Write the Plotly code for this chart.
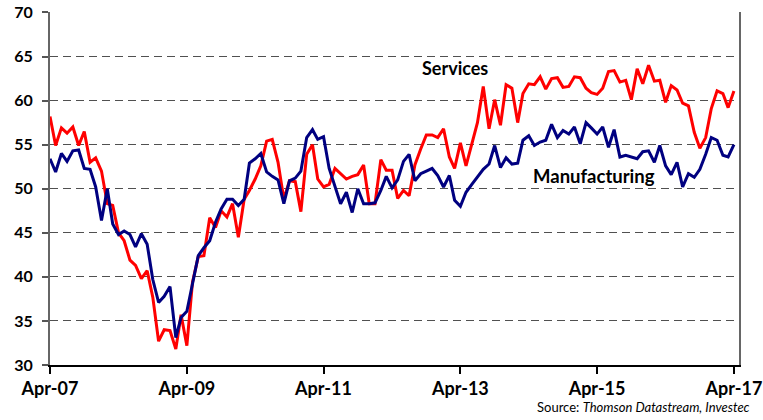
import pandas as pd
import plotly.graph_objects as go

months = pd.date_range("2007-04-01", periods=121, freq="MS")

services = [
    58.2, 54.9, 56.9, 56.3, 57.0, 54.9, 56.5, 53.0, 53.5, 52.0,
    48.3, 48.1, 45.0, 44.1, 41.9, 41.3, 39.8, 40.7, 37.7, 32.7,
    34.0, 33.9, 31.8, 35.7, 32.2, 39.4, 42.3, 42.4, 46.7, 45.6,
    47.5, 46.8, 48.3, 44.5, 48.8, 49.8, 51.1, 52.6, 55.4, 55.6,
    53.0, 48.8, 50.9, 50.8, 47.4, 53.9, 55.0, 51.1, 50.2, 50.5,
    52.3, 51.7, 51.1, 51.4, 51.6, 52.7, 48.3, 48.3, 53.3, 52.1,
    52.1, 48.9, 49.8, 49.2, 52.7, 54.5, 56.1, 56.1, 55.8, 56.8,
    53.6, 52.3, 55.2, 52.6, 55.0, 57.5, 61.6, 56.8, 60.1, 57.2,
    61.8, 61.4, 57.5, 60.8, 61.9, 61.8, 62.7, 61.3, 62.5, 62.6,
    61.5, 61.6, 62.7, 62.6, 61.4, 60.9, 60.7, 61.4, 63.3, 63.4,
    62.1, 62.3, 60.1, 63.6, 61.9, 64.0, 62.2, 62.3, 59.8, 61.7,
    61.2, 59.7, 59.4, 56.4, 54.6, 55.8, 59.1, 61.1, 60.8, 59.2,
    61.1,
]

manufacturing = [
    53.4, 51.9, 54.0, 53.1, 54.3, 54.4, 52.3, 52.2, 50.2, 46.4,
    50.0, 46.0, 44.8, 45.2, 44.8, 43.4, 44.9, 43.7, 39.7, 37.1,
    37.8, 38.9, 33.1, 35.4, 36.1, 39.2, 42.4, 43.3, 44.1, 46.2,
    47.7, 48.8, 48.8, 48.1, 48.8, 52.9, 53.4, 54.0, 51.9, 51.4,
    51.0, 48.3, 50.9, 51.2, 52.0, 55.8, 56.7, 55.6, 55.9, 52.3,
    50.2, 48.3, 49.6, 47.3, 50.0, 48.3, 48.3, 48.4, 49.8, 51.4,
    50.1, 51.0, 53.1, 53.9, 50.9, 51.7, 52.0, 52.3, 51.5, 50.2,
    51.5, 48.7, 48.0, 49.6, 50.5, 51.4, 52.2, 52.8, 54.9, 52.4,
    53.5, 52.8, 52.9, 55.5, 56.0, 54.9, 55.3, 55.5, 57.3, 55.8,
    56.6, 56.2, 57.0, 55.1, 57.5, 56.9, 56.2, 57.0, 54.7, 56.7,
    53.6, 53.8, 53.6, 53.4, 54.2, 54.3, 53.0, 54.9, 52.6, 51.6,
    53.0, 50.2, 51.7, 51.3, 52.2, 53.9, 55.8, 55.5, 53.8, 53.6,
    55.0,
]

tick_dates = ["2007-04-01", "2009-04-01", "2011-04-01", "2013-04-01",
              "2015-04-01", "2017-04-01"]
tick_labels = ["Apr-07", "Apr-09", "Apr-11", "Apr-13", "Apr-15", "Apr-17"]
y_ticks = [30, 35, 40, 45, 50, 55, 60, 65, 70]

FONT = "Lato"

fig = go.Figure()
fig.add_trace(go.Scatter(x=months, y=services, mode="lines", name="Services",
                         line=dict(color="#FF0000", width=3)))
fig.add_trace(go.Scatter(x=months, y=manufacturing, mode="lines",
                         name="Manufacturing",
                         line=dict(color="#000080", width=3)))

fig.update_layout(
    width=763, height=420,
    margin=dict(l=50, r=24, t=12, b=55, pad=0),
    paper_bgcolor="white", plot_bgcolor="white",
    showlegend=False,
    font=dict(family=FONT, color="black"),
)

fig.update_xaxes(
    type="date", automargin=False,
    range=["2007-04-01", "2017-04-28"],
    tickvals=tick_dates, ticktext=tick_labels,
    tickfont=dict(family=FONT, size=18, color="black", weight="bold"),
    ticks="outside", ticklen=7, tickcolor="black", tickwidth=1.5,
    showline=True, linecolor="black", linewidth=1.5,
    showgrid=False, zeroline=False,
)
fig.update_yaxes(
    automargin=False,
    range=[30, 70.05],
    tickvals=y_ticks,
    tickfont=dict(family=FONT, size=16, color="black", weight="bold"),
    ticks="outside", ticklen=6, tickcolor="#555555", tickwidth=1.5,
    ticklabelstandoff=6,
    showline=True, linecolor="#666666", linewidth=2, mirror=True,
    showgrid=True, gridcolor="#505050", gridwidth=1.3, griddash="8px,5px",
    zeroline=False,
)

fig.add_annotation(x="2013-03-01", y=63.65, text="<b>Services</b>",
                   showarrow=False, font=dict(family=FONT, size=18, color="black"))
fig.add_annotation(x="2015-03-13", y=51.4, text="<b>Manufacturing</b>",
                   showarrow=False, font=dict(family=FONT, size=18.5, color="black"))
fig.add_annotation(xref="paper", yref="paper", x=1.019, y=-0.119,
                   xanchor="right", yanchor="middle",
                   text="Source: <i>Thomson Datastream, Investec</i>",
                   showarrow=False, font=dict(family=FONT, size=13, color="black"))

fig.write_html(
    "out.html",
    config={"displayModeBar": False},
    post_script="document.body.style.margin='0px';document.body.style.overflow='hidden';",
)
